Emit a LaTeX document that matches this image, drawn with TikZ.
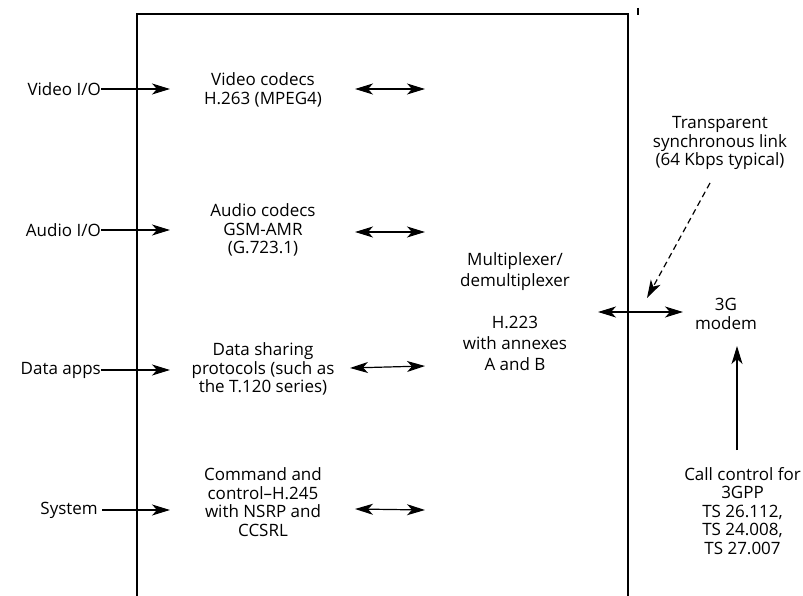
\documentclass[tikz,border=0pt]{standalone}
\usepackage{fontspec}
\setmainfont{Open Sans}
\usetikzlibrary{arrows.meta}
\begin{document}
\begin{tikzpicture}[x=1pt,y=-1pt,
  lbl/.style={font=\fontsize{17}{18.5}\selectfont, align=center, inner sep=0pt},
  arr/.style={line width=1.2pt, -{Stealth[length=18pt,width=11pt,inset=5pt]}},
  darr/.style={line width=1.2pt, {Stealth[length=18pt,width=11pt,inset=5pt]}-{Stealth[length=18pt,width=11pt,inset=5pt]}},
  frame/.style={line width=1.3pt}]
\useasboundingbox (0,0) rectangle (803,596);
% frame
\coordinate (tl) at (137,14);
\coordinate (tr) at (628,14);
\coordinate (bl) at (137,596);
\coordinate (br) at (628,596);
\draw[frame] (bl) -- (tl) -- (tr) -- (br);
\coordinate (m1) at (638,8);
\coordinate (m2) at (638,15);
\draw[line width=2pt] (m1) -- (m2);
% inputs
\node[lbl, anchor=east] (vio) at (101,89) {Video I/O};
\node[lbl, anchor=east] (aio) at (101,230) {Audio I/O};
\node[lbl, anchor=east] (dat) at (101,370) {Data apps};
\node[lbl, anchor=east] (sys) at (98,510) {System};
\coordinate (vioT) at (170,89);
\coordinate (aioT) at (170,230);
\coordinate (datT) at (170,370);
\coordinate (sysT) at (170,510);
\draw[arr] (vio.east) -- (vioT);
\draw[arr] (aio.east) -- (aioT);
\draw[arr] (dat.east) -- (datT);
\draw[arr] ([xshift=4pt]sys.east) -- (sysT);
% codec blocks
\node[lbl] (vc) at (263,90) {Video codecs\\H.263 (MPEG4)};
\node[lbl] (ac) at (263,230) {Audio codecs\\GSM-AMR\\(G.723.1)};
\node[lbl] (dc) at (263,369) {Data sharing\\protocols (such as\\the T.120 series)};
\node[lbl] (cc) at (263,502) {Command and\\control--H.245\\with NSRP and\\CCSRL};
% double arrows to mux
\coordinate (vL) at (355,89);  \coordinate (vR) at (425,89);
\coordinate (aL) at (355,232); \coordinate (aR) at (425,232);
\coordinate (dL) at (350,368); \coordinate (dR) at (425,366);
\coordinate (cL) at (355,509); \coordinate (cR) at (425,510);
\draw[darr] (vL) -- (vR);
\draw[darr] (aL) -- (aR);
\draw[darr] (dL) -- (dR);
\draw[darr] (cL) -- (cR);
% multiplexer
\node[lbl, font=\fontsize{17}{21}\selectfont] (mux) at (515,312)
  {Multiplexer/\\demultiplexer\\[21pt]H.223\\with annexes\\A and B};
% right side
\coordinate (lkL) at (598,312);
\coordinate (lkR) at (683,312);
\draw[darr] (lkL) -- (lkR);
\node[lbl] (modem) at (726,314) {3G\\modem};
\node[lbl] (trans) at (720,143) {Transparent\\synchronous link\\(64 Kbps typical)};
\coordinate (dsA) at (710,183);
\coordinate (dsB) at (647,298);
\draw[arr, dash pattern=on 6pt off 4pt] (dsA) -- (dsB);
\node[lbl, anchor=east] (call) at (801,511) {Call control for\\3GPP\\TS 26.112,\\TS 24.008,\\TS 27.007};
\coordinate (ccA) at (737,450);
\coordinate (ccB) at (737,346);
\draw[arr] (ccA) -- (ccB);
\end{tikzpicture}
\end{document}
